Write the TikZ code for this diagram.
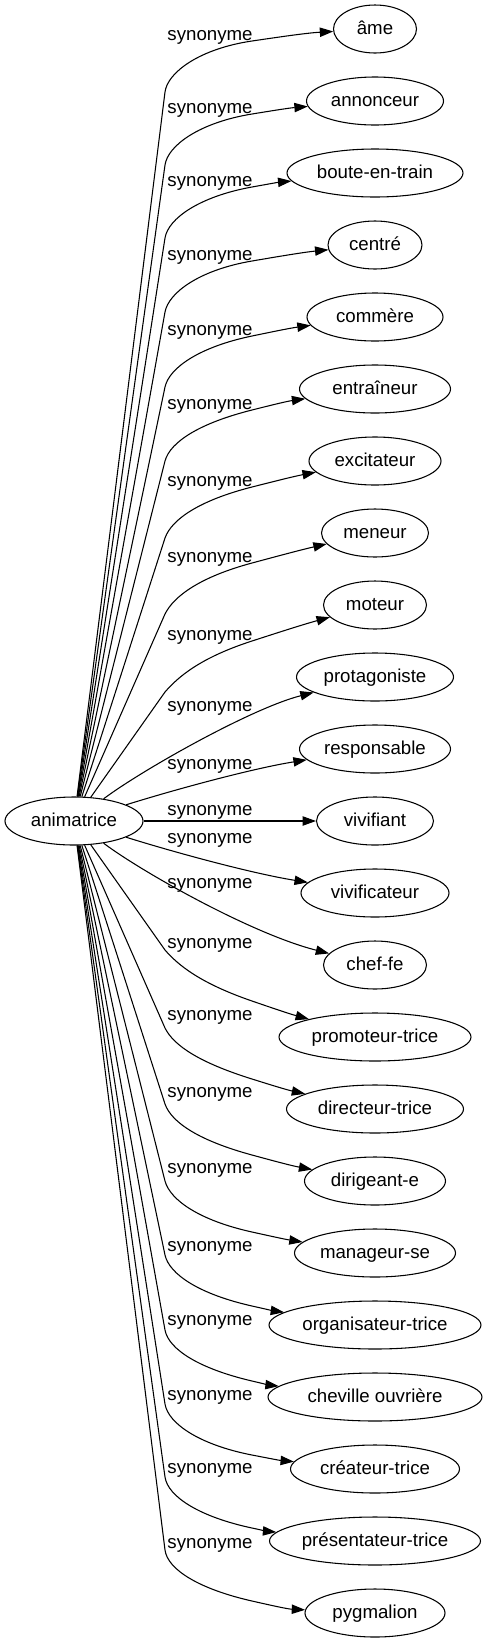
\documentclass[tikz,border=0pt]{standalone}
\usepackage{fontspec}
\setmainfont{Liberation Sans}
\usetikzlibrary{shapes.geometric,arrows.meta,calc}
\tikzset{
  ell/.style={draw, ellipse, inner sep=0pt, minimum height=36pt, line width=0.8pt,
    font=\fontsize{14}{16}\selectfont, text height=9.6pt, text depth=1pt},
  lab/.style={inner sep=0pt, anchor=base, font=\fontsize{14}{16}\selectfont},
  conn/.style={draw, line width=0.8pt, -{Triangle[length=10pt,width=7pt]}},
}
\begin{document}
\begin{tikzpicture}[x=0.75pt,y=-0.75pt]
\useasboundingbox (0,0) rectangle (487,1643);
\node[ell, minimum width=103.5pt] (a) at (74,821) {animatrice};
\foreach \i/\txt/\w in {0/âme/83, 1/annonceur/137, 2/boute-en-train/176, 3/centré/94,
  4/commère/136, 5/entraîneur/151, 6/excitateur/132, 7/meneur/107, 8/moteur/103,
  9/protagoniste/157, 10/responsable/151, 11/vivifiant/117, 12/vivificateur/148,
  13/chef-fe/103, 14/promoteur-trice/192, 15/directeur-trice/177, 16/dirigeant-e/141,
  17/manageur-se/161, 18/organisateur-trice/212, 19/cheville ouvrière/214,
  20/créateur-trice/169, 21/présentateur-trice/211, 22/pygmalion/140}
  \node[ell, minimum width={\w*0.75pt}] (t\i) at (375,{29+72*\i}) {\txt};
\foreach \k/\L in {0/35, 1/108, 2/181, 3/255, 4/330, 5/404, 6/481, 7/557, 8/635,
  9/706, 10/764, 11/810, 12/838, 13/883, 14/943, 15/1015, 16/1092, 17/1168,
  18/1246, 19/1320, 20/1395, 21/1468, 22/1543}
  \node[lab] (l\k) at (210,{\L+5}) {synonyme};
% upper edges
\foreach \i/\L/\w/\eo in {0/35/83/0, 1/108/137/4, 2/181/176/7, 3/255/94/3, 4/330/136/7,
  5/404/151/8, 6/481/132/10, 7/557/107/10, 8/635/103/11}{
  \pgfmathsetmacro\ky{\L+57}
  \pgfmathsetmacro\py{\L+6}
  \pgfmathsetmacro\yt{29+72*\i}
  \pgfmathsetmacro\ex{375-\w/2*sqrt(1-(\eo/24)^2)}
  \pgfmathsetmacro\ey{\yt+\eo}
  \pgfmathsetmacro\dd{(\ex-252)/3}
  \pgfmathsetmacro\sE{(\ey-\py)/(\ex-252)}
  \pgfmathsetmacro\by{\py-52*\sE}
  \pgfmathsetmacro\qx{252+\dd}
  \pgfmathsetmacro\qy{\py+\sE*\dd}
  \pgfmathsetmacro\rx{\ex-\dd}
  \pgfmathsetmacro\ry{\ey-\sE*\dd}
  \coordinate (k\i) at (165,\ky);
  \coordinate (p\i) at (252,\py);
  \draw[conn] (a) -- (k\i) .. controls ($(k\i)!-15pt!(a.north)$) and (200,\by) .. (p\i)
     .. controls (\qx,\qy) and (\rx,\ry) .. (t\i);
}
% lower edges
\foreach \i/\L/\w/\eo in {14/635/192/-17, 15/557/177/-14, 16/481/141/-10, 17/404/161/-10,
  18/330/212/-12, 19/255/214/-10, 20/181/169/-6, 21/108/211/-8, 22/35/140/0}{
  \pgfmathsetmacro\ky{1585-\L}
  \pgfmathsetmacro\py{1636-\L}
  \pgfmathsetmacro\yt{29+72*\i}
  \pgfmathsetmacro\ex{375-\w/2*sqrt(1-(\eo/24)^2)}
  \pgfmathsetmacro\ey{\yt+\eo}
  \pgfmathsetmacro\dd{(\ex-252)/3}
  \pgfmathsetmacro\sE{(\ey-\py)/(\ex-252)}
  \pgfmathsetmacro\by{\py-52*\sE}
  \pgfmathsetmacro\qx{252+\dd}
  \pgfmathsetmacro\qy{\py+\sE*\dd}
  \pgfmathsetmacro\rx{\ex-\dd}
  \pgfmathsetmacro\ry{\ey-\sE*\dd}
  \coordinate (k\i) at (165,\ky);
  \coordinate (p\i) at (252,\py);
  \draw[conn] (a) -- (k\i) .. controls ($(k\i)!-15pt!(a.south)$) and (200,\by) .. (p\i)
     .. controls (\qx,\qy) and (\rx,\ry) .. (t\i);
}
% middle edges
\draw[conn] (a) .. controls (142,770) and (252,708) .. (t9);
\draw[conn] (a) .. controls (180,788) and (255,768) .. (t10);
\draw[conn] (a) -- (t11);
\draw[conn] (a) .. controls (180,854) and (255,874) .. (t12);
\draw[conn] (a) .. controls (142,872) and (252,934) .. (t13);
\end{tikzpicture}
\end{document}
